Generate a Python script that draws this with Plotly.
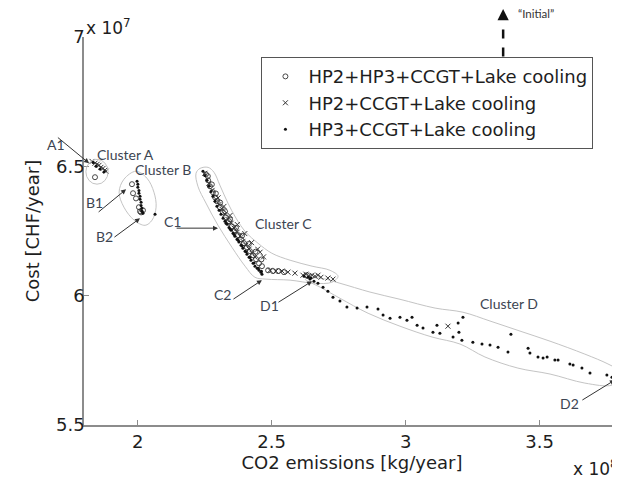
import plotly.graph_objects as go

# ---- data (CO2 emissions in 1e8 kg/year, cost in 1e7 CHF/year) ----
series_names = ["HP2+HP3+CCGT+Lake cooling", "HP2+CCGT+Lake cooling", "HP3+CCGT+Lake cooling"]

hp2hp3_co2 = [1.841,
              1.979, 1.983, 1.994, 2.005, 2.009, 2.013, 2.020,
              2.255, 2.263, 2.270, 2.281, 2.289, 2.296, 2.307, 2.319, 2.330, 2.341, 2.352,
              2.363, 2.375, 2.386, 2.397, 2.408, 2.419, 2.431, 2.442, 2.453, 2.464,
              2.262, 2.277, 2.292, 2.308, 2.326, 2.345, 2.367, 2.390, 2.415, 2.440, 2.462,
              2.487, 2.505, 2.524, 2.546, 2.632]
hp2hp3_cost = [6.458,
               6.431, 6.396, 6.376, 6.342, 6.326, 6.322, 6.330,
               6.469, 6.446, 6.423, 6.400, 6.380, 6.365, 6.342, 6.322, 6.303, 6.288, 6.268,
               6.253, 6.234, 6.218, 6.203, 6.187, 6.172, 6.156, 6.141, 6.125, 6.114,
               6.462, 6.430, 6.395, 6.360, 6.326, 6.295, 6.262, 6.232, 6.200, 6.170, 6.140,
               6.098, 6.095, 6.095, 6.091, 6.079]

hp2_co2 = [1.830, 1.841, 1.849, 1.856, 1.863, 1.871, 1.878, 1.882,
           2.251, 2.266, 2.278, 2.293, 2.304, 2.315, 2.326, 2.337, 2.349, 2.360, 2.371,
           2.382, 2.393, 2.404, 2.416, 2.427, 2.438, 2.457,
           2.300, 2.322, 2.345, 2.372, 2.400, 2.425, 2.448, 2.470,
           2.494, 2.516, 2.539, 2.561, 2.587,
           2.617, 2.628, 2.640, 2.651, 2.662, 2.673, 2.684, 2.710, 2.729,
           3.158]
hp2_cost = [6.519, 6.512, 6.508, 6.504, 6.496, 6.492, 6.485, 6.481,
            6.473, 6.434, 6.407, 6.372, 6.353, 6.334, 6.315, 6.295, 6.280, 6.261, 6.245,
            6.230, 6.210, 6.195, 6.180, 6.164, 6.149, 6.168,
            6.378, 6.345, 6.310, 6.275, 6.240, 6.205, 6.180, 6.150,
            6.098, 6.095, 6.095, 6.091, 6.087,
            6.079, 6.083, 6.075, 6.079, 6.075, 6.079, 6.071, 6.068, 6.064,
            5.882]

hp3_co2 = [1.834, 1.845, 1.860, 1.875,
           1.998, 2.001, 2.001, 2.005, 2.005, 2.009, 2.009, 2.013, 2.013, 2.016, 2.016, 2.020, 2.065,
           2.244, 2.251, 2.259, 2.266, 2.274, 2.281, 2.289, 2.296, 2.304, 2.311, 2.319, 2.326,
           2.334, 2.341, 2.349, 2.356, 2.363, 2.371, 2.378, 2.386, 2.393, 2.401, 2.408, 2.416,
           2.423, 2.431, 2.438, 2.446, 2.453, 2.460, 2.464,
           2.330, 2.345, 2.360, 2.375, 2.390, 2.405, 2.420, 2.435, 2.450, 2.462,
           2.621, 2.636, 2.647, 2.643, 2.658, 2.673,
           2.692, 2.710, 2.729, 2.755, 2.781, 2.819, 2.856, 2.897, 2.916, 2.942, 2.979, 3.005,
           3.024, 3.043, 3.065, 3.102, 3.117, 3.128, 3.196, 3.214, 3.199, 3.177, 3.210, 3.251,
           3.285, 3.315, 3.345, 3.382, 3.393, 3.457, 3.464, 3.494, 3.513, 3.528, 3.557, 3.569,
           3.613, 3.625, 3.658, 3.688, 3.751, 3.770, 3.789]
hp3_cost = [6.515, 6.500, 6.490, 6.479,
            6.442, 6.431, 6.419, 6.407, 6.396, 6.384, 6.373, 6.361, 6.349, 6.338, 6.326, 6.319, 6.315,
            6.481, 6.465, 6.446, 6.423, 6.403, 6.384, 6.365, 6.346, 6.330, 6.315, 6.299, 6.288,
            6.276, 6.264, 6.253, 6.241, 6.230, 6.218, 6.207, 6.195, 6.183, 6.172, 6.160, 6.149,
            6.137, 6.125, 6.114, 6.106, 6.098, 6.091, 6.083,
            6.280, 6.258, 6.236, 6.214, 6.192, 6.170, 6.148, 6.126, 6.106, 6.094,
            6.075, 6.071, 6.068, 6.064, 6.056, 6.048,
            6.033, 6.017, 5.994, 5.979, 5.956, 5.952, 5.956, 5.948, 5.925, 5.913, 5.917, 5.905,
            5.917, 5.886, 5.875, 5.859, 5.886, 5.855, 5.894, 5.917, 5.859, 5.840, 5.828, 5.820,
            5.813, 5.809, 5.801, 5.782, 5.851, 5.797, 5.778, 5.763, 5.759, 5.763, 5.751, 5.751,
            5.736, 5.732, 5.720, 5.701, 5.693, 5.685, 5.685]

x_tick_vals = [2.0, 2.5, 3.0, 3.5]
x_tick_text = ["2", "2.5", "3", "3.5"]
y_tick_vals = [5.5, 6.0, 6.5, 7.0]
y_tick_text = ["5.5", "6", "6.5", "7"]

# ---- cluster outlines (annotation geometry, data coords) ----
outline_B = ([1.994, 2.035, 2.061, 2.069, 2.054, 2.028, 1.987, 1.949, 1.931, 1.949, 1.994],
             [6.481, 6.454, 6.400, 6.342, 6.292, 6.272, 6.292, 6.342, 6.400, 6.450, 6.481])
outline_C = ([2.218, 2.233, 2.263, 2.285, 2.307, 2.337, 2.367, 2.404, 2.449, 2.501, 2.569, 2.651,
              2.718, 2.748, 2.725, 2.658, 2.569, 2.479, 2.438, 2.401, 2.352, 2.300, 2.255, 2.225, 2.218],
             [6.473, 6.492, 6.496, 6.477, 6.427, 6.358, 6.300, 6.245, 6.203, 6.164, 6.137, 6.114,
              6.098, 6.075, 6.052, 6.048, 6.060, 6.064, 6.071, 6.114, 6.187, 6.272, 6.358, 6.423, 6.473])
outline_D = ([2.625, 2.681, 2.755, 2.867, 2.979, 3.110, 3.214, 3.315, 3.427, 3.539, 3.669, 3.755,
              3.793, 3.804, 3.770, 3.669, 3.539, 3.419, 3.296, 3.203, 3.099, 2.979, 2.860, 2.755,
              2.681, 2.625],
             [6.064, 6.068, 6.048, 6.014, 5.986, 5.952, 5.936, 5.902, 5.863, 5.824, 5.774, 5.736,
              5.712, 5.681, 5.654, 5.662, 5.697, 5.720, 5.763, 5.813, 5.840, 5.882, 5.932, 5.990,
              6.033, 6.064])

AX = "#8c8c8c"
INK = "#1e1e1e"
LBL = "#3d4552"
OUT = "#c4c4c4"
AXFONT = "DejaVu Sans, Liberation Sans, Arial, sans-serif"

fig = go.Figure()

for ox, oy in (outline_B, outline_C, outline_D):
    fig.add_trace(go.Scatter(x=ox, y=oy, mode="lines", line=dict(color=OUT, width=1, shape="spline", smoothing=1.0),
                             showlegend=False, hoverinfo="skip"))

fig.add_trace(go.Scatter(x=hp2hp3_co2, y=hp2hp3_cost, mode="markers", name=series_names[0],
                         marker=dict(symbol="circle-open", size=5, color="#333333", line=dict(width=0.9))))
fig.add_trace(go.Scatter(x=hp2_co2, y=hp2_cost, mode="markers", name=series_names[1],
                         marker=dict(symbol="x-thin-open", size=5, color="#333333", line=dict(width=1))))
fig.add_trace(go.Scatter(x=hp3_co2, y=hp3_cost, mode="markers", name=series_names[2],
                         marker=dict(symbol="circle", size=3, color="#111111")))

# cluster A ellipse
fig.add_shape(type="circle", xref="x", yref="y", x0=1.807, x1=1.890, y0=6.431, y1=6.527,
              line=dict(color=OUT, width=1))

# "Initial" dashed arrow (paper coords, above the plot area)
fig.add_shape(type="line", xref="paper", yref="paper", x0=0.782, x1=0.782, y0=0.950, y1=1.040,
              line=dict(color="#111111", width=2.5, dash="dash"), layer="below")
fig.add_annotation(x=0.782, y=1.078, xref="paper", yref="paper", ax=0, ay=13,
                   text="", showarrow=True, arrowhead=2, arrowsize=1.5, arrowwidth=1.5, arrowcolor="#111111")
fig.add_annotation(x=0.806, y=1.060, xref="paper", yref="paper", text="\u201cInitial\u201d", showarrow=False,
                   xanchor="left", yanchor="middle", font=dict(family="Lato, sans-serif", size=11.5, color="#333333"))

lab_font = dict(family="Lato, Open Sans, sans-serif", size=14, color=LBL)
labels = [
    ("Cluster A", 1.953, 6.546), ("Cluster B", 2.095, 6.488),
    ("B1", 1.841, 6.361), ("B2", 1.878, 6.230), ("C1", 2.132, 6.288),
    ("Cluster C", 2.543, 6.280), ("C2", 2.315, 6.006), ("D1", 2.494, 5.963),
    ("Cluster D", 3.386, 5.971), ("D2", 3.613, 5.585),
]
for t, x, y in labels:
    fig.add_annotation(x=x, y=y, xref="x", yref="y", text=t, showarrow=False, font=lab_font)

# A1 sits left of the axis: paper coordinates
fig.add_annotation(x=-0.073, y=0.750, xref="paper", yref="paper", text="A1", showarrow=False, font=lab_font)

arrows = [  # (tail x, tail y, tip x, tip y)
    (1.697, 6.616, 1.819, 6.512),
    (1.849, 6.319, 1.957, 6.411),
    (1.908, 6.222, 2.009, 6.299),
    (2.140, 6.261, 2.300, 6.261),
    (2.352, 5.983, 2.464, 6.060),
    (2.520, 5.971, 2.651, 6.056),
    (3.654, 5.593, 3.781, 5.674),
]
for tx, ty, hx, hy in arrows:
    fig.add_annotation(x=hx, y=hy, ax=tx, ay=ty, xref="x", yref="y", axref="x", ayref="y",
                       text="", showarrow=True, arrowhead=2, arrowsize=1, arrowwidth=1,
                       arrowcolor="#333333")

# exponent labels
fig.add_annotation(x=0.0, y=1.026, xref="paper", yref="paper", text="x 10<sup>7</sup>", showarrow=False,
                   xanchor="left", yanchor="middle", font=dict(family=AXFONT, size=17, color=INK))
fig.add_annotation(x=1.0, y=-0.110, xref="paper", yref="paper", text="x 10<sup>8</sup>", showarrow=False,
                   xanchor="right", yanchor="middle", font=dict(family=AXFONT, size=17, color=INK))

# The page body has an 8px default margin, so the figure is sized 612x472
# to keep the plot area at 84..620 x 37..425 in the 620x480 window.
fig.update_layout(
    width=612, height=472,
    margin=dict(l=76, r=0, t=29, b=55, autoexpand=False),
    paper_bgcolor="white", plot_bgcolor="white",
    font=dict(family=AXFONT, size=17, color=INK),
    showlegend=True,
    legend=dict(x=0.331, y=0.948, xanchor="left", yanchor="top",
                bordercolor="#555555", borderwidth=1, bgcolor="white",
                font=dict(family=AXFONT, size=18, color=INK), tracegroupgap=0, itemwidth=36),
    xaxis=dict(range=[1.8, 3.8], tickvals=x_tick_vals, ticktext=x_tick_text, automargin=False,
               showline=True, linecolor=AX, linewidth=1.5, ticks="inside", ticklen=5,
               tickcolor=AX, showgrid=False, zeroline=False, tickfont=dict(size=18),
               title=dict(text="CO2 emissions [kg/year]", standoff=2, font=dict(size=18))),
    yaxis=dict(range=[5.5, 7.0], tickvals=y_tick_vals, ticktext=y_tick_text, automargin=False,
               showline=True, linecolor=AX, linewidth=1.5, ticks="inside", ticklen=5,
               tickcolor=AX, showgrid=False, zeroline=False, tickfont=dict(size=18),
               ticklabelstandoff=-6,
               title=dict(text="Cost [CHF/year]", standoff=12, font=dict(size=18))),
)

fig.write_html("out.html")
